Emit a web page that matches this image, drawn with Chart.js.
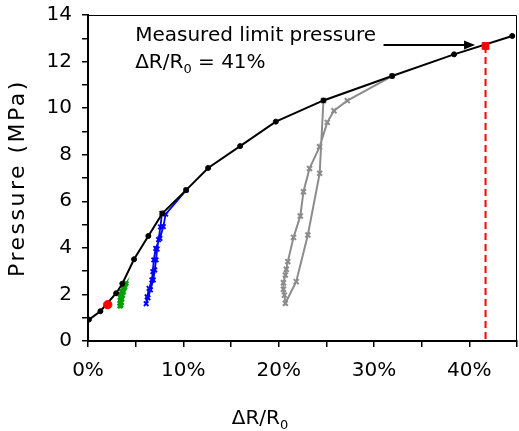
<!DOCTYPE html>
<html><head><meta charset="utf-8">
<script src="https://cdn.jsdelivr.net/npm/chart.js@4/dist/chart.umd.min.js"></script>
<style>html,body{margin:0;padding:0;background:#fff}#wrap{width:519px;height:431px;position:relative}</style>
</head><body><div id="wrap"><canvas id="c" width="519" height="431"></canvas></div>
<script>
const FONT = "'DejaVu Sans', sans-serif";

// Main loading curve (black): ΔR/R0 in %, pressure in MPa
const envelopeX = [0.1, 1.3, 2.95, 3.6, 4.83, 6.33, 7.8, 10.29, 12.6, 15.96, 19.7, 24.7, 31.9, 38.4, 44.5];
const envelopeY = [0.92, 1.28, 2.05, 2.46, 3.51, 4.51, 5.48, 6.48, 7.43, 8.37, 9.42, 10.33, 11.38, 12.31, 13.1];

// Unload-reload loop 1 (green)
const loop1X = [3.35, 3.35, 3.38, 3.40, 3.45, 3.55, 3.68, 3.82, 4.00, 3.85, 3.72, 3.62, 3.55, 3.50, 3.45];
const loop1Y = [1.50, 1.62, 1.75, 1.87, 2.00, 2.12, 2.25, 2.36, 2.47, 2.30, 2.10, 1.95, 1.80, 1.65, 1.52];

// Unload-reload loop 2 (blue)
const loop2X = [7.75, 7.6, 7.4, 7.25, 7.15, 7.0, 6.85, 6.55, 6.3, 6.1, 6.2, 6.4, 6.7, 6.8, 6.9, 7.1, 7.55, 7.9, 8.15, 10.3];
const loop2Y = [5.48, 4.9, 4.35, 3.95, 3.48, 3.05, 2.62, 2.2, 1.85, 1.6, 1.9, 2.26, 2.62, 2.98, 3.48, 3.98, 4.41, 4.91, 5.45, 6.48];

// Unload-reload loop 3 (gray)
const loop3X = [24.7, 24.3, 23.06, 21.84, 20.7, 20.6, 20.5, 20.5, 20.7, 20.8, 20.96, 21.56, 22.27, 22.6, 23.24, 24.29, 25.1, 25.8, 27.2, 31.9];
const loop3Y = [10.33, 7.2, 4.55, 2.55, 1.62, 1.97, 2.22, 2.5, 2.83, 3.08, 3.41, 4.45, 5.37, 6.41, 7.41, 8.34, 9.39, 9.89, 10.32, 11.38];

// Special points
const startPointX = [2.07];
const startPointY = [1.56];
const limitX = [41.7];
const limitY = [12.67];
const limitLineY = [12.67, 0];

// Axis ticks
const xTickValues = [0, 10, 20, 30, 40];
const yTickValues = [0, 2, 4, 6, 8, 10, 12, 14];

// Annotation
const annotationLines = ["Measured limit pressure", "ΔR/R|0| = 41%"];
const annotationAnchor = {x: 4.95, y: 12.9};
const arrowFrom = {x: 31.0, y: 12.71};
const arrowTo = {x: 40.6, y: 12.71};
const xTitle = "ΔR/R|0|";

const pts = (xs, ys) => xs.map((x, i) => ({x, y: ys[i]}));

// draw text with |sub| markers for subscripts
function drawSubText(ctx, text, x, y, size, align) {
  const parts = text.split('|');
  const widths = parts.map((p, i) => {
    ctx.font = (i % 2 ? Math.round(size * 0.65) : size) + 'px ' + FONT;
    return ctx.measureText(p).width;
  });
  const total = widths.reduce((a, b) => a + b, 0);
  let cx = align === 'center' ? x - total / 2 : x;
  ctx.textAlign = 'left';
  ctx.textBaseline = 'alphabetic';
  parts.forEach((p, i) => {
    const sub = i % 2 === 1;
    ctx.font = (sub ? Math.round(size * 0.65) : size) + 'px ' + FONT;
    ctx.fillText(p, cx, sub ? y + size * 0.25 : y);
    cx += widths[i];
  });
}

const zeroPad = s => { s.paddingLeft = 0; s.paddingRight = 0; s.paddingTop = 0; s.paddingBottom = 0; };

const decor = {
  id: 'decor',
  afterLayout(chart) {
    const ys = chart.scales.y;
    if (!ys._spaced) {
      const orig = ys.drawTitle.bind(ys);
      ys.drawTitle = function (area) {
        const c = this.ctx;
        c.save();
        c.letterSpacing = '2.5px';
        orig(area);
        c.restore();
      };
      ys._spaced = true;
    }
  },
  beforeDatasetsDraw(chart) {
    const {ctx, chartArea: a} = chart;
    ctx.save();
    ctx.strokeStyle = '#000';
    ctx.lineWidth = 1;
    ctx.beginPath();
    ctx.moveTo(a.left, a.top + 0.5);
    ctx.lineTo(a.right - 0.5, a.top + 0.5);
    ctx.lineTo(a.right - 0.5, a.bottom);
    ctx.stroke();
    ctx.restore();
  },
  afterDatasetsDraw(chart) {
    const {ctx, scales: {x, y}} = chart;
    ctx.save();
    ctx.fillStyle = '#000';
    const ax = x.getPixelForValue(annotationAnchor.x);
    const ay = y.getPixelForValue(annotationAnchor.y);
    annotationLines.forEach((t, i) => drawSubText(ctx, t, ax, ay + i * 27, 20, 'left'));
    // arrow
    const x0 = x.getPixelForValue(arrowFrom.x), y0 = y.getPixelForValue(arrowFrom.y);
    const x1 = x.getPixelForValue(arrowTo.x), y1 = y.getPixelForValue(arrowTo.y);
    ctx.strokeStyle = '#000';
    ctx.lineWidth = 2;
    ctx.beginPath();
    ctx.moveTo(x0, y0);
    ctx.lineTo(x1 - 8, y1);
    ctx.stroke();
    ctx.beginPath();
    ctx.moveTo(x1, y1);
    ctx.lineTo(x1 - 11, y1 - 4.5);
    ctx.lineTo(x1 - 11, y1 + 4.5);
    ctx.closePath();
    ctx.fill();
    // x axis title
    drawSubText(ctx, xTitle, 260, 424, 20, 'center');
    ctx.restore();
  }
};

new Chart(document.getElementById('c'), {
  type: 'scatter',
  data: {
    datasets: [
      {data: pts(limitX, limitY), pointStyle: 'rect', pointRadius: 4.8, pointBackgroundColor: '#ff0000', pointBorderColor: '#ff0000', pointBorderWidth: 1, order: 0},
      {data: pts(startPointX, startPointY), pointStyle: 'circle', pointRadius: 4.2, pointBackgroundColor: '#ff0000', pointBorderColor: '#ff0000', pointBorderWidth: 1, order: 0},
      {data: pts([limitX[0], limitX[0]], limitLineY), showLine: true, borderColor: '#ff0000', borderWidth: 2, borderDash: [7, 4], pointRadius: 0, order: 1},
      {data: pts(envelopeX, envelopeY), showLine: true, borderColor: '#000', borderWidth: 2, pointStyle: 'circle', pointRadius: 2.5, pointBackgroundColor: '#000', pointBorderColor: '#000', pointBorderWidth: 1, order: 2},
      {data: pts(loop1X, loop1Y), showLine: true, borderColor: '#00a000', borderWidth: 2, pointStyle: 'crossRot', pointRadius: 3, pointBorderColor: '#00a000', pointBorderWidth: 2.5, order: 3},
      {data: pts(loop2X, loop2Y), showLine: true, borderColor: '#0000ff', borderWidth: 1.8, pointStyle: 'crossRot', pointRadius: 3.2, pointBorderColor: '#0000ff', pointBorderWidth: 1.8, order: 4},
      {data: pts(loop3X, loop3Y), showLine: true, borderColor: '#8c8c8c', borderWidth: 2, pointStyle: 'crossRot', pointRadius: 3.5, pointBorderColor: '#8c8c8c', pointBorderWidth: 2, order: 5}
    ]
  },
  options: {
    responsive: false,
    animation: false,
    events: [],
    layout: {autoPadding: false, padding: {left: 0, right: 2, top: 15, bottom: 0}},
    plugins: {legend: {display: false}, tooltip: {enabled: false}},
    scales: {
      x: {
        type: 'linear', min: 0, max: 45,
        border: {color: '#000', width: 2},
        grid: {drawOnChartArea: false, tickLength: 6, tickColor: '#000', lineWidth: 1.5},
        afterFit: s => { s.height = 90; zeroPad(s); },
        afterBuildTicks: s => { s.ticks = []; for (let v = 0; v <= 45; v += 5) s.ticks.push({value: v}); },
        ticks: {
          autoSkip: false, maxRotation: 0, padding: 12, color: '#000',
          font: {family: FONT, size: 20},
          callback: v => xTickValues.includes(v) ? v + '%' : ''
        }
      },
      y: {
        type: 'linear', min: 0, max: 14,
        border: {color: '#000', width: 2},
        grid: {drawOnChartArea: false, tickLength: 6, tickColor: '#000', lineWidth: 1.5},
        afterFit: s => { s.width = 88; zeroPad(s); },
        afterBuildTicks: s => { s.ticks = []; for (let v = 0; v <= 14; v += 1) s.ticks.push({value: v}); },
        title: {display: true, text: 'Pressure (MPa)', color: '#000', font: {family: FONT, size: 22}, padding: {top: 5, bottom: 0}},
        ticks: {
          autoSkip: false, padding: 10, color: '#000',
          font: {family: FONT, size: 20},
          callback: v => yTickValues.includes(v) ? String(v) : ''
        }
      }
    }
  },
  plugins: [decor]
});
</script>
</body></html>
